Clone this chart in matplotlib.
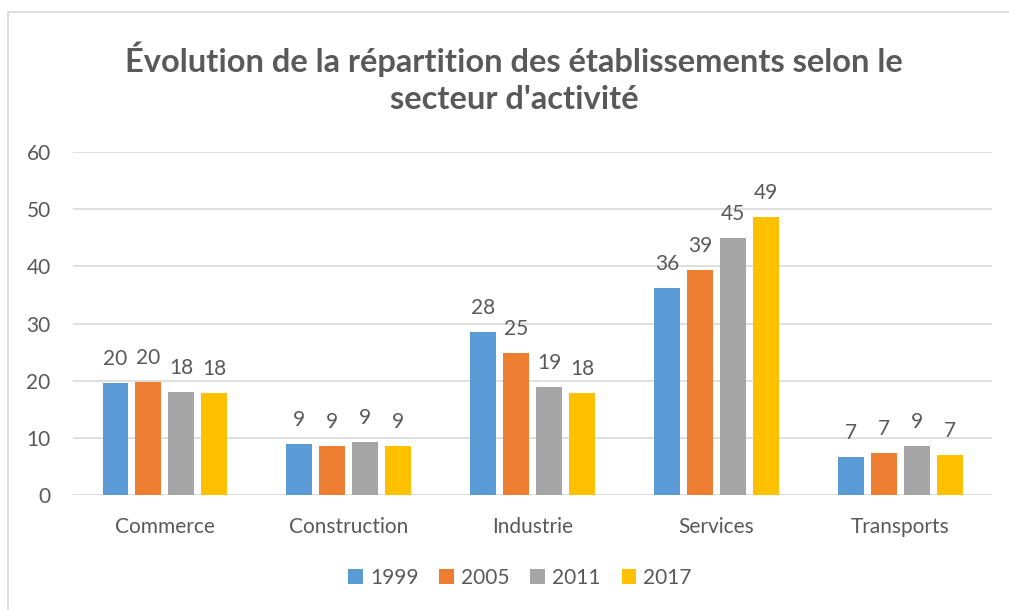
import matplotlib.pyplot as plt
from matplotlib.patches import Rectangle
import numpy as np

# données
secteurs = ['Commerce', 'Construction', 'Industrie', 'Services', 'Transports']
annees = ['1999', '2005', '2011', '2017']
v1999 = [19.6, 9.0, 28.5, 36.2, 6.6]
v2005 = [19.8, 8.6, 24.8, 39.4, 7.3]
v2011 = [18.1, 9.3, 18.9, 45.0, 8.6]
v2017 = [17.8, 8.6, 17.9, 48.7, 7.0]
yticks = [0, 10, 20, 30, 40, 50, 60]

couleurs = ['#5B9BD5', '#ED7D31', '#A5A5A5', '#FFC000']
gris = '#595959'

plt.rcParams['font.family'] = ['Lato', 'DejaVu Sans']

fig = plt.figure(figsize=(10.09, 6.10), dpi=100)
ax = fig.add_axes([0.0723, 0.1885, 0.911, 0.5623])

x = np.arange(len(secteurs))
pas = 0.179
larg = 0.141
for i, (vals, an) in enumerate(zip([v1999, v2005, v2011, v2017], annees)):
    barres = ax.bar(x + (i - 1.5) * pas, vals, larg, color=couleurs[i], label=an, zorder=3)
    for b, v in zip(barres, vals):
        ax.annotate(f'{v:.0f}', (b.get_x() + b.get_width() / 2, v),
                    xytext=(0, 14), textcoords='offset pixels',
                    ha='center', va='bottom', fontsize=15, color=gris)

ax.set_xlim(-0.5, 4.5)
ax.set_ylim(0, 60)
ax.set_yticks(yticks)
ax.set_xticks(x)
ax.set_xticklabels(secteurs)
ax.grid(axis='y', color='#D9D9D9', lw=1.2, zorder=0)
for s in ax.spines.values():
    s.set_visible(False)
ax.tick_params(axis='both', length=0, labelsize=15, colors=gris)
ax.tick_params(axis='y', pad=16)
ax.tick_params(axis='x', pad=16)

fig.text(514 / 1009, 1 - 78 / 610,
         "Évolution de la répartition des établissements selon le\nsecteur d'activité",
         ha='center', va='center', fontsize=23.5, fontweight='bold', color=gris,
         linespacing=1.35)

fig.legend(loc='center', bbox_to_anchor=(520 / 1009, 1 - 578 / 610), ncol=4,
           frameon=False, fontsize=15, handlelength=0.7, handleheight=0.7,
           handletextpad=0.35, columnspacing=1.0, labelcolor=gris)

fig.patches.append(Rectangle((8 / 1009, -0.1), 1.2, 1.1 - 12 / 610,
                             transform=fig.transFigure, fill=False,
                             edgecolor='#D9D9D9', lw=1.2))

fig.savefig('out.png', dpi=100)
